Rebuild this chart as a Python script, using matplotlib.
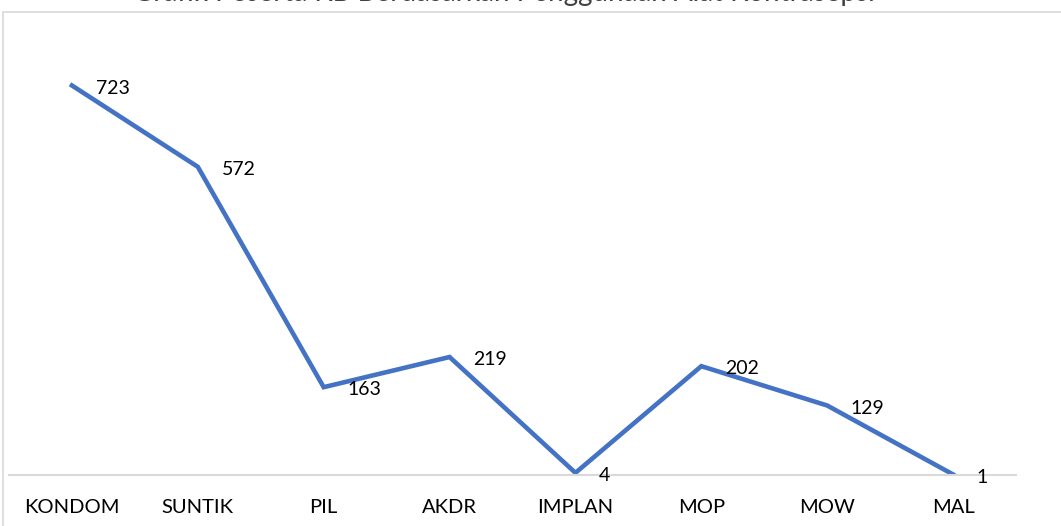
import matplotlib.pyplot as plt
from matplotlib.patches import Rectangle

# data
methods = ["KONDOM", "SUNTIK", "PIL", "AKDR", "IMPLAN", "MOP", "MOW", "MAL"]
users = [723, 572, 163, 219, 4, 202, 129, 1]

plt.rcParams["font.family"] = ["Lato", "DejaVu Sans"]

fig = plt.figure(figsize=(10.61, 5.26), dpi=100)
ax = fig.add_axes([9 / 1061, 51 / 526, 1007 / 1061, 431 / 526])

# outer chart border (Excel-like)
fig.patches.append(Rectangle((3 / 1061, -0.01), 1.1, 519 / 526, transform=fig.transFigure,
                             fill=False, edgecolor="#d9d9d9", linewidth=1.2))

x = list(range(len(methods)))
ax.plot(x, users, color="#4472C4", linewidth=3.3, solid_joinstyle="miter")

for xi, v in zip(x, users):
    ax.annotate(str(v), (xi, v), xytext=(17, -2), textcoords="offset points",
                ha="left", va="center", fontsize=14, color="#000000")

ax.set_xlim(-0.5, 7.5)
ax.set_ylim(0, 800)
ax.set_xticks(x)
ax.set_xticklabels(methods, fontsize=14.5)
ax.tick_params(axis="x", length=0, pad=17)
ax.set_yticks([])
for s in ["top", "right", "left"]:
    ax.spines[s].set_visible(False)
ax.spines["bottom"].set_color("#d9d9d9")
ax.spines["bottom"].set_linewidth(1.5)

# title, almost entirely cut off at the top as in the source image
fig.text(0.475, 1 - 1.5 / 526, "Grafik Peserta KB Berdasarkan Penggunaan Alat Kontrasepsi",
         ha="center", va="baseline", fontsize=20, color="#404040")

fig.savefig("out.png", dpi=100)
